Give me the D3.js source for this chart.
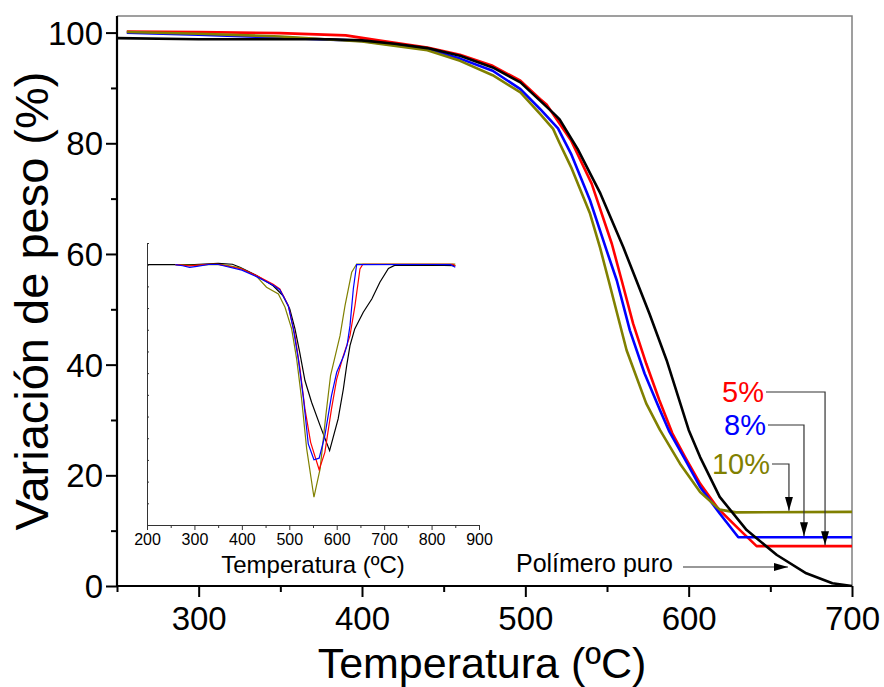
<!DOCTYPE html>
<html>
<head>
<meta charset="utf-8">
<script src="https://cdn.jsdelivr.net/npm/d3@7"></script>
<style>
  body { margin: 0; background: #fff; }
  text { font-family: "Liberation Sans", Arial, sans-serif; }
</style>
</head>
<body>
<svg id="chart" width="884" height="687"></svg>
<script>
// TGA curves (weight % vs temperature)
const puroT = [250, 300, 350, 380, 400, 420, 440, 460, 480, 497, 509, 517, 521, 532, 546, 560, 568, 576, 586.5, 600, 607, 619, 635.5, 654, 672, 688, 700];
const puroW = [99.0, 98.8, 98.8, 98.8, 98.6, 98.0, 97.2, 95.8, 93.7, 91.0, 87.7, 85.5, 84.3, 79.0, 70.9, 61.2, 55.2, 49.2, 40.8, 28.2, 23.3, 16.1, 10.1, 5.6, 2.3, 0.5, 0];

const p5T = [256, 300, 350, 390, 410, 440, 460, 480, 497, 509, 513, 528, 540.6, 553, 559, 566, 574, 582, 590, 598, 607, 618, 631.4, 641.6, 700];
const p5W = [100.2, 100.1, 99.9, 99.5, 98.6, 97.3, 96.0, 94.0, 91.3, 88.0, 87.0, 80.5, 72.7, 61.8, 55.2, 47.4, 40.2, 33.6, 27.6, 23.2, 18.5, 14.0, 10.1, 7.2, 7.2];

const p8T = [256, 300, 350, 400, 440, 460, 480, 497, 509, 520, 528, 539.6, 549.8, 556, 564, 573, 582.4, 588, 597, 607, 619, 630.4, 700];
const p8W = [100.0, 99.6, 99.1, 98.5, 97.0, 95.3, 93.1, 89.8, 86.2, 82.7, 78.1, 69.7, 60.6, 55.2, 46.2, 38.4, 31.8, 28.0, 23.3, 17.9, 13.1, 8.8, 8.8];

const p10T = [256, 300, 350, 400, 440, 460, 480, 497, 509, 517, 521, 528, 539.6, 545.7, 551, 562, 574, 582.4, 594.7, 607, 619, 629, 700];
const p10W = [100.1, 99.8, 99.3, 98.4, 96.8, 94.9, 92.3, 89.2, 85.3, 82.6, 80.0, 75.7, 67.3, 61.2, 55.2, 42.6, 33.0, 28.2, 22.1, 17.0, 13.8, 13.3, 13.4];

// DTG curves for the inset (derivative, arbitrary units)
const dPuroT = [200, 300, 350, 380, 396, 431, 466, 487, 501, 512, 522, 533, 547, 565, 585, 603, 614, 621, 628, 638, 656, 674, 691, 709, 722, 800, 850];
const dPuroV = [0, 0, 0.006, 0.002, -0.012, -0.05, -0.097, -0.143, -0.204, -0.296, -0.404, -0.534, -0.634, -0.742, -0.857, -0.711, -0.573, -0.465, -0.373, -0.296, -0.219, -0.158, -0.081, -0.017, -0.003, -0.002, -0.004];

const d5T = [260, 290, 330, 350, 400, 431, 466, 480, 498, 512, 522.6, 533, 545, 563, 575, 589, 600, 614, 628, 638.5, 649, 655, 800, 845, 850];
const d5V = [0, -0.005, 0.002, 0.002, -0.02, -0.05, -0.09, -0.112, -0.189, -0.327, -0.481, -0.665, -0.819, -0.945, -0.865, -0.665, -0.527, -0.419, -0.327, -0.189, -0.02, 0.002, 0.002, 0.002, -0.006];

const d8T = [260, 275, 290, 305, 330, 350, 400, 431, 466, 480, 498, 508.5, 519, 530, 540, 552, 563, 575, 589, 600, 615, 622, 628, 635, 642, 800, 840, 850];
const d8V = [0, -0.005, -0.012, -0.008, 0.001, 0.001, -0.025, -0.055, -0.095, -0.115, -0.19, -0.296, -0.435, -0.619, -0.826, -0.899, -0.892, -0.788, -0.604, -0.496, -0.419, -0.37, -0.281, -0.112, 0, 0.001, 0, -0.012];

const d10T = [260, 300, 340, 360, 396, 431, 452, 477, 491, 505, 515.6, 526, 536.7, 552, 565, 577, 587, 607, 617.5, 631.6, 642, 850];
const d10V = [0, -0.003, 0.001, 0, -0.015, -0.054, -0.104, -0.135, -0.196, -0.296, -0.435, -0.619, -0.849, -1.072, -0.941, -0.696, -0.511, -0.327, -0.189, -0.035, 0.003, 0.003];

const mainTicks = [300, 400, 500, 600, 700];
const mainMinor = [250, 350, 450, 550, 650];
const yTicks = [0, 20, 40, 60, 80, 100];
const yMinor = [10, 30, 50, 70, 90];
const insetTicks = [200, 300, 400, 500, 600, 700, 800, 900];

const svg = d3.select('#chart');

const x = d3.scaleLinear().domain([250, 700]).range([117, 852]);
const y = d3.scaleLinear().domain([0, 103]).range([586, 16]);

// grey frame top/right
svg.append('path')
  .attr('d', `M${x(250)},${y(103)}H${x(700)}V${y(0)}`)
  .attr('fill', 'none').attr('stroke', '#808080').attr('stroke-width', 1.5);

const zip = (a, b) => a.map((t, i) => [t, b[i]]);
const line = d3.line().x(d => x(d[0])).y(d => y(d[1]));

const series = [
  {T: p5T, W: p5W, color: '#ff0000'},
  {T: p8T, W: p8W, color: '#0000ff'},
  {T: p10T, W: p10W, color: '#808000'},
  {T: puroT, W: puroW, color: '#000000'}
];
series.forEach(s => {
  svg.append('path')
    .attr('d', line(zip(s.T, s.W)))
    .attr('fill', 'none')
    .attr('stroke', s.color)
    .attr('stroke-width', 2.6)
    .attr('stroke-linejoin', 'round');
});

// main axes
const xAxis = svg.append('g').attr('transform', `translate(0,${y(0)})`)
  .call(d3.axisBottom(x).tickValues(mainTicks).tickSize(11).tickPadding(10).tickFormat(d3.format('d')));
svg.append('g').attr('transform', `translate(0,${y(0)})`)
  .call(d3.axisBottom(x).tickValues(mainMinor).tickSize(6).tickFormat(''))
  .select('.domain').remove();
const yAxis = svg.append('g').attr('transform', `translate(${x(250)},0)`)
  .call(d3.axisLeft(y).tickValues(yTicks).tickSize(11).tickPadding(3).tickFormat(d3.format('d')));
svg.append('g').attr('transform', `translate(${x(250)},0)`)
  .call(d3.axisLeft(y).tickValues(yMinor).tickSize(6).tickFormat(''))
  .select('.domain').remove();

svg.selectAll('.domain').attr('stroke', '#000').attr('stroke-width', 2.2);
yAxis.select('.domain').attr('d', `M0,${y(103)}V${y(0)}`);
xAxis.select('.domain').attr('d', `M${x(250)},0H${x(700)}`);
svg.selectAll('.tick line').attr('stroke', '#000').attr('stroke-width', 2);
xAxis.selectAll('.tick text').attr('font-size', 33).attr('fill', '#000');
yAxis.selectAll('.tick text').attr('font-size', 33).attr('fill', '#000').attr('dy', '0.35em');

svg.append('text').attr('x', 482).attr('y', 678).attr('text-anchor', 'middle')
  .attr('font-size', 43).text('Temperatura (ºC)');
svg.append('text').attr('transform', 'translate(48,301) rotate(-90)').attr('text-anchor', 'middle')
  .attr('font-size', 47).text('Variación de peso (%)');

// inset
const xi = d3.scaleLinear().domain([200, 900]).range([147, 479]);
const yi = d3.scaleLinear().domain([-1.2, 0.1]).range([525, 243]);
const linei = d3.line().x(d => xi(d[0])).y(d => yi(d[1]));
const inset = svg.append('g');
const iSeries = [
  {T: dPuroT, V: dPuroV, color: '#000000'},
  {T: d10T, V: d10V, color: '#808000'},
  {T: d5T, V: d5V, color: '#ff0000'},
  {T: d8T, V: d8V, color: '#0000ff'}
];
iSeries.forEach(s => {
  inset.append('path')
    .attr('d', linei(zip(s.T, s.V)))
    .attr('fill', 'none')
    .attr('stroke', s.color)
    .attr('stroke-width', 1.2);
});
const xiAxis = inset.append('g').attr('transform', `translate(0,525)`)
  .call(d3.axisBottom(xi).tickValues(insetTicks).tickSize(5).tickPadding(4).tickSizeOuter(0));
inset.append('g').attr('transform', `translate(0,525)`)
  .call(d3.axisBottom(xi).tickValues(d3.range(250, 900, 100)).tickSize(3).tickFormat(''))
  .select('.domain').remove();
const yiAxis = inset.append('g').attr('transform', `translate(147,0)`)
  .call(d3.axisRight(yi).tickValues(d3.range(-1.1, 0.11, 0.1)).tickSize(2).tickFormat('').tickSizeOuter(0));
inset.selectAll('.domain').attr('stroke', '#333').attr('stroke-width', 1);
inset.selectAll('.tick line').attr('stroke', '#333').attr('stroke-width', 1);
xiAxis.selectAll('.tick text').attr('font-size', 16).attr('fill', '#000');
inset.append('text').attr('x', 313).attr('y', 573).attr('text-anchor', 'middle')
  .attr('font-size', 24).text('Temperatura (ºC)');

// annotations
svg.append('defs').append('marker')
  .attr('id', 'arr').attr('viewBox', '0 0 14 8').attr('refX', 14).attr('refY', 4)
  .attr('markerWidth', 14).attr('markerHeight', 8).attr('markerUnits', 'userSpaceOnUse')
  .attr('orient', 'auto')
  .append('path').attr('d', 'M0,0L14,4L0,8Z').attr('fill', '#000');

const labels = [
  {text: '5%', color: '#ff0000', lx: 764, ly: 402, ax: 683.5, level: 7.2},
  {text: '8%', color: '#0000ff', lx: 766, ly: 435, ax: 670.6, level: 8.8},
  {text: '10%', color: '#808000', lx: 770, ly: 474, ax: 661.4, level: 13.4}
];
labels.forEach(l => {
  svg.append('text').attr('x', l.lx).attr('y', l.ly).attr('text-anchor', 'end')
    .attr('font-size', 29).attr('fill', l.color).text(l.text);
  svg.append('path')
    .attr('d', `M${l.lx + 2},${l.ly - 10}H${x(l.ax)}V${y(l.level) - 1}`)
    .attr('fill', 'none').attr('stroke', '#333').attr('stroke-width', 1.2)
    .attr('marker-end', 'url(#arr)');
});
svg.append('text').attr('x', 673).attr('y', 572).attr('text-anchor', 'end')
  .attr('font-size', 25).attr('fill', '#000').text('Polímero puro');
svg.append('path')
  .attr('d', `M${x(596.5)},567H${x(660.8)}`)
  .attr('fill', 'none').attr('stroke', '#333').attr('stroke-width', 1.2)
  .attr('marker-end', 'url(#arr)');
</script>
</body>
</html>
